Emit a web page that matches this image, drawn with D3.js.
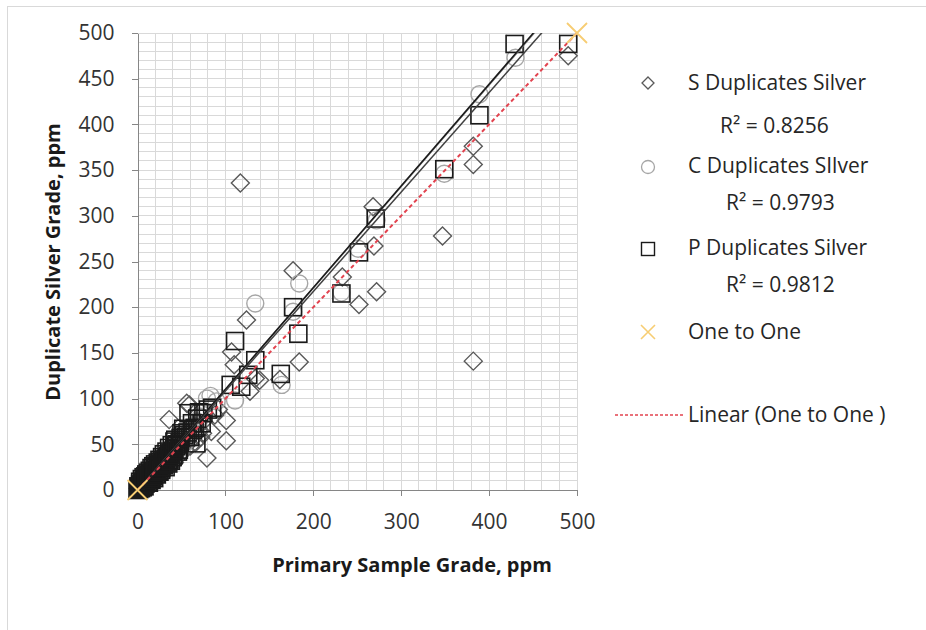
<!DOCTYPE html>
<html>
<head>
<meta charset="utf-8">
<script src="https://cdn.jsdelivr.net/npm/d3@7"></script>
<style>
  html, body { margin: 0; padding: 0; background: #fff; }
  svg { display: block; }
  text { font-family: "Open Sans", "Lato", sans-serif; }
</style>
</head>
<body>
<svg id="chart" width="926" height="630"></svg>
<script>
// ---------- DATA ----------
const xTicks = [0, 100, 200, 300, 400, 500];
const yTicks = [0, 50, 100, 150, 200, 250, 300, 350, 400, 450, 500];

// S Duplicates Silver [primary, duplicate]
const sDuplicates = [
  [1,2],[2,5],[3,1],[4,8],[5,3],[6,10],[7,5],[8,12],[9,7],[10,14],[11,9],[12,16],[13,11],
  [14,18],[15,12],[16,21],[17,14],[18,24],[19,16],[20,26],[21,18],[22,29],[23,20],[24,27],
  [25,22],[26,33],[27,24],[28,30],[29,26],[30,36],[31,28],[32,40],[33,30],[34,38],[35,31],
  [37,44],[38,33],[40,47],[41,36],[43,50],[44,40],[46,43],[48,52],[50,46],[52,58],[55,50],
  [57,63],[62,55],[65,68],[70,64],[72,58],[88,82],[92,88],
  [12,6],[18,10],[24,15],[30,21],[36,26],[42,30],[48,38],[54,44],[60,48],[66,52],[74,62],
  [36,77],[56,95],[59,93],[79,35],[84,64],[101,76],[101,54],
  [107,151],[110,137],[117,336],[124,186],[128,108],[134,122],[139,120],[162,121],
  [177,240],[184,140],[233,233],[252,203],[268,310],[269,267],[272,217],[347,278],
  [382,376],[382,356],[382,141],[490,475]
];
const sR2 = "0.8256";

// C Duplicates SIlver
const cDuplicates = [
  [1,1],[3,4],[5,6],[6,3],[8,9],[10,11],[11,7],[13,14],[15,16],[16,12],[18,20],[20,22],
  [21,17],[23,25],[25,27],[26,22],[28,31],[30,33],[32,28],[34,37],[36,40],[38,35],[40,44],
  [42,46],[44,41],[47,52],[50,55],[53,50],[56,60],[60,66],[64,70],[68,75],[72,80],
  [79,100],[83,103],[90,97],[111,98],[134,204],[164,115],[177,195],[184,226],
  [232,216],[251,264],[272,295],[349,346],[389,433],[430,473]
];
const cR2 = "0.9793";

// P Duplicates Silver
const pDuplicates = [
  [0,0],[2,3],[3,6],[4,2],[5,8],[7,5],[8,11],[9,7],[11,13],[12,9],[14,16],[15,12],[17,19],
  [18,15],[20,22],[21,18],[23,25],[24,21],[26,28],[27,24],[29,31],[30,27],[32,34],[33,30],
  [35,37],[36,33],[38,40],[40,36],[42,45],[42,53],[44,48],[46,42],[48,52],[50,62],[52,67],
  [55,58],[58,84],[60,58],[62,73],[65,68],[67,51],[73,73],[75,84],
  [1,4],[2,1],[3,9],[4,5],[5,12],[6,3],[6,9],[7,14],[8,4],[9,15],[10,8],[10,17],[11,11],
  [12,19],[13,8],[13,16],[14,21],[15,18],[16,11],[16,24],[17,15],[18,26],[19,20],[19,13],
  [20,28],[21,25],[22,17],[23,30],[24,27],[25,20],[25,33],[26,31],[27,22],[28,36],[29,28],
  [30,39],[31,33],[32,25],[33,42],[34,36],[35,29],[36,46],[37,40],[38,32],[39,49],[40,43],
  [41,38],[43,55],[45,50],[47,44],[49,57],[53,60],[57,63],[63,66],[68,78],[70,85],[80,88],[85,90],
  [106,115],[111,163],[118,113],[126,126],[134,142],[163,127],[177,200],[183,171],
  [232,215],[252,260],[271,297],[349,351],[389,410],[429,488],[490,488]
];
const pR2 = "0.9812";

// One to One
const oneToOne = [[0,0],[500,500]];

// Linear trendlines [slope, intercept]
const sTrend = [1.089, -0.7];
const cTrend = [1.110, -1.0];
const pTrend = [1.113, -1.2];

// ---------- CHART ----------
const svg = d3.select("#chart");
const x = d3.scaleLinear().domain([0, 500]).range([137.5, 577]);
const y = d3.scaleLinear().domain([0, 500]).range([490, 33]);

// outer border
svg.append("rect").attr("x", 7.5).attr("y", 6.5).attr("width", 940).attr("height", 640)
  .attr("fill", "none").attr("stroke", "#d9d9d9");

// gridlines
const grid = svg.append("g");
grid.selectAll("line.v").data(d3.range(20, 501, 20)).join("line")
  .attr("x1", d => x(d)).attr("x2", d => x(d)).attr("y1", y(0)).attr("y2", y(500))
  .attr("stroke", "#d9d9d9").attr("stroke-width", 1).attr("shape-rendering", "crispEdges");
grid.selectAll("line.h").data(d3.range(10, 501, 10)).join("line")
  .attr("y1", d => y(d)).attr("y2", d => y(d)).attr("x1", x(0)).attr("x2", x(500))
  .attr("stroke", "#d9d9d9").attr("stroke-width", 1).attr("shape-rendering", "crispEdges");

// axes
const yAxis = svg.append("g").attr("transform", `translate(${x(0)},0)`)
  .call(d3.axisLeft(y).tickValues(yTicks).tickSize(6).tickPadding(17).tickSizeOuter(0));
const xAxis = svg.append("g").attr("transform", `translate(0,${y(0)})`)
  .call(d3.axisBottom(x).tickValues(xTicks).tickSize(6).tickPadding(18).tickSizeOuter(0));
[xAxis, yAxis].forEach(a => {
  a.selectAll("path, line").attr("stroke", "#868686").attr("shape-rendering", "crispEdges");
  a.selectAll("text").attr("font-size", 21).attr("fill", "#333333")
    .style("font-family", '"Open Sans", sans-serif');
});

// axis titles
svg.append("text").attr("x", 412).attr("y", 572).attr("text-anchor", "middle")
  .attr("font-size", 20).attr("font-weight", "bold").attr("fill", "#1a1a1a")
  .text("Primary Sample Grade, ppm");
svg.append("text").attr("transform", "translate(60,262) rotate(-90)").attr("text-anchor", "middle")
  .attr("font-size", 20).attr("font-weight", "bold").attr("fill", "#1a1a1a")
  .text("Duplicate Silver Grade, ppm");

// clip
svg.append("clipPath").attr("id", "plotClip").append("rect")
  .attr("x", x(0) - 12).attr("y", y(500) - 12).attr("width", x(500) - x(0) + 24).attr("height", y(0) - y(500) + 24);
svg.append("clipPath").attr("id", "lineClip").append("rect")
  .attr("x", x(0)).attr("y", y(500)).attr("width", x(500) - x(0)).attr("height", y(0) - y(500));

const marks = svg.append("g");

// marker shapes
const diamondPath = (s) => `M0,${-s}L${s},0L0,${s}L${-s},0Z`;

// S diamonds
marks.append("g").selectAll("path").data(sDuplicates).join("path")
  .attr("transform", d => `translate(${x(d[0])},${y(d[1])})`)
  .attr("d", diamondPath(9)).attr("fill", "none").attr("stroke", "#595959").attr("stroke-width", 1.4);

// C circles
marks.append("g").selectAll("circle").data(cDuplicates).join("circle")
  .attr("cx", d => x(d[0])).attr("cy", d => y(d[1])).attr("r", 8.5)
  .attr("fill", "none").attr("stroke", "#a6a6a6").attr("stroke-width", 1.4);

// P squares
marks.append("g").selectAll("rect").data(pDuplicates).join("rect")
  .attr("x", d => x(d[0]) - 8.5).attr("y", d => y(d[1]) - 8.5).attr("width", 17).attr("height", 17)
  .attr("fill", "none").attr("stroke", "#1a1a1a").attr("stroke-width", 1.6);

// trend lines
const lines = svg.append("g").attr("clip-path", "url(#lineClip)");
const trendLine = d3.line().x(d => x(d[0])).y(d => y(d[1]));
[[sTrend, "#404040"], [cTrend, "#7f7f7f"], [pTrend, "#1a1a1a"]].forEach(([t, col]) => {
  const pts = [0, 490].map(v => [v, t[0] * v + t[1]]);
  lines.append("path").attr("d", trendLine(pts)).attr("fill", "none")
    .attr("stroke", col).attr("stroke-width", 1.5);
});
// linear one-to-one
lines.append("path").attr("d", trendLine(oneToOne)).attr("fill", "none")
  .attr("stroke", "#e2434f").attr("stroke-width", 2).attr("stroke-dasharray", "4,3");

// One to One X markers
const xMark = (s) => `M${-s},${-s}L${s},${s}M${-s},${s}L${s},${-s}`;
svg.append("g").attr("clip-path", "url(#plotClip)").selectAll("path").data(oneToOne).join("path")
  .attr("transform", d => `translate(${x(d[0])},${y(d[1])})`)
  .attr("d", xMark(10)).attr("stroke", "#f7cd73").attr("stroke-width", 1.8).attr("fill", "none");

// ---------- LEGEND ----------
const leg = svg.append("g");
const legText = (tx, ty, str) => leg.append("text").attr("x", tx).attr("y", ty).attr("dy", "0.35em")
  .attr("font-size", 21).attr("fill", "#262626").text(str);

leg.append("path").attr("transform", "translate(648,83)").attr("d", diamondPath(6))
  .attr("fill", "none").attr("stroke", "#595959").attr("stroke-width", 1.3);
legText(688, 83, "S Duplicates Silver");
legText(720, 126, "R² = " + sR2);

leg.append("circle").attr("cx", 648).attr("cy", 167).attr("r", 6.5)
  .attr("fill", "none").attr("stroke", "#a6a6a6").attr("stroke-width", 1.3);
legText(688, 166, "C Duplicates SIlver");
legText(726, 203, "R² = " + cR2);

leg.append("rect").attr("x", 641.5).attr("y", 242.5).attr("width", 13).attr("height", 13)
  .attr("fill", "none").attr("stroke", "#1a1a1a").attr("stroke-width", 1.4);
legText(688, 248, "P Duplicates Silver");
legText(726, 285, "R² = " + pR2);

leg.append("path").attr("transform", "translate(648,332)").attr("d", xMark(7))
  .attr("stroke", "#f7cd73").attr("stroke-width", 1.6).attr("fill", "none");
legText(688, 332, "One to One");

leg.append("line").attr("x1", 615).attr("x2", 683).attr("y1", 415).attr("y2", 415)
  .attr("stroke", "#e2434f").attr("stroke-width", 1.5).attr("stroke-dasharray", "3,2");
legText(688, 415, "Linear (One to One )");
</script>
</body>
</html>
